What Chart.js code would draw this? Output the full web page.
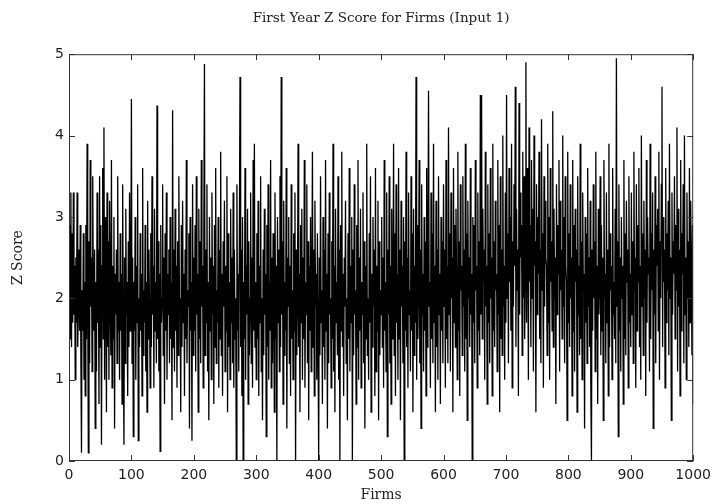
<!DOCTYPE html>
<html lang="en">
<head>
<meta charset="UTF-8">
<title>First Year Z Score for Firms (Input 1)</title>
<script src="https://cdn.jsdelivr.net/npm/chart.js"></script>
<style>
  html, body { margin: 0; padding: 0; background: #fff; }
  #wrap { width: 717px; height: 504px; }
</style>
</head>
<body>
<div id="wrap"><canvas id="zChart" width="717" height="504"></canvas></div>
<script>
const chartTitle = 'First Year Z Score for Firms (Input 1)';
const xTitle = 'Firms';
const yTitle = 'Z Score';
const xTicks = [0, 100, 200, 300, 400, 500, 600, 700, 800, 900, 1000];
const yTicks = [0, 1, 2, 3, 4, 5];

// Z score of each firm, firms 1..1000 (estimated)
const zScores = [
  2.9,1.5,3.3,1.4,2.8,1.7,3.3,1.8,2.4,1.0, 2.5,1.7,3.3,1.4,1.9,2.6,1.6,2.9,1.3,0.1,
  2.1,1.6,2.8,1.0,2.2,0.8,2.9,1.5,3.9,2.0, 0.1,2.7,1.2,3.7,1.9,2.5,1.1,3.5,2.0,1.6,
  2.6,0.4,2.2,1.1,3.3,1.7,2.6,0.7,3.5,1.4, 2.9,0.2,2.4,3.6,1.5,4.1,1.0,3.0,2.1,0.6,
  3.3,1.4,2.7,1.0,3.2,2.0,1.3,3.7,0.9,2.4, 1.5,3.0,0.4,2.3,1.8,2.6,1.2,3.5,1.6,2.2,
  1.0,2.8,1.6,2.3,0.7,3.4,1.5,0.2,2.5,1.2, 3.1,1.8,2.2,0.8,2.7,1.4,3.3,1.6,2.0,4.45,

  1.2,2.5,0.3,2.2,1.6,3.0,1.0,2.4,1.7,3.4, 0.25,2.0,1.4,2.8,1.6,2.3,0.8,3.6,1.3,2.1,
  1.7,2.9,1.1,2.2,0.6,3.2,1.5,2.6,1.9,0.9, 2.8,1.4,3.5,1.8,2.4,0.9,3.1,1.6,2.2,1.2,
  4.37,1.5,2.7,1.1,2.3,0.12,2.9,1.7,2.0,3.4, 1.3,2.5,0.7,2.8,1.6,3.3,1.0,2.3,1.8,2.6,
  1.2,3.0,1.5,2.2,0.5,4.31,1.4,2.6,1.1,3.1, 1.6,2.4,0.9,2.7,1.3,3.5,1.8,2.0,0.6,2.9,
  1.4,3.2,1.7,2.3,0.8,2.6,1.5,3.7,1.2,2.1, 1.9,2.8,0.4,3.0,1.6,2.2,0.25,3.4,1.3,2.5,

  1.6,2.9,1.1,3.5,1.8,2.3,0.6,3.1,1.5,2.7, 1.2,3.7,1.9,2.4,0.9,2.8,4.88,1.3,2.6,1.7,
  3.4,1.1,2.2,0.5,3.0,1.6,2.5,1.0,3.3,1.8, 2.4,0.7,2.9,1.4,3.6,1.2,2.1,1.7,3.0,0.9,
  2.6,1.5,3.8,1.3,2.3,0.8,2.7,1.9,3.2,1.1, 2.4,1.6,3.5,0.6,2.8,1.4,2.2,1.0,3.1,1.7,
  2.5,1.2,3.3,0.9,2.6,1.5,2.0,0.0,3.4,1.6, 2.3,1.1,2.9,4.72,1.4,2.6,0.8,3.0,0.0,2.2,
  1.5,3.6,1.0,2.4,1.8,3.1,0.7,2.7,1.3,2.0, 3.3,1.2,2.5,0.9,3.7,1.6,3.9,1.4,2.2,1.0,

  2.8,1.5,3.2,0.8,2.4,1.7,3.5,1.1,2.0,0.5, 2.6,1.3,3.1,1.8,2.3,0.3,2.9,1.4,3.4,1.0,
  2.2,1.6,3.7,0.9,2.5,1.2,2.8,1.9,0.6,3.3, 1.5,2.4,0.0,3.0,1.7,2.6,1.1,3.5,1.4,4.72,
  1.8,2.7,0.7,3.2,1.3,2.2,1.6,3.6,0.4,2.5, 1.9,3.0,1.2,2.4,0.8,3.4,1.5,2.1,1.0,2.8,
  1.6,3.3,0.0,2.6,1.3,2.0,3.9,1.4,2.3,0.6, 2.9,1.7,3.1,1.0,2.5,1.5,3.7,0.9,2.2,1.8,
  3.4,1.2,2.7,0.5,2.4,1.6,3.0,1.1,2.0,3.8, 1.4,2.6,0.8,3.2,1.9,2.3,1.0,2.8,1.5,0.0,

  2.5,1.3,3.5,1.7,2.1,0.7,3.0,1.4,2.6,1.0, 3.7,1.6,2.3,0.4,2.8,1.2,3.3,1.8,2.0,0.9,
  2.7,1.5,3.9,1.1,2.4,0.6,3.1,1.7,2.2,1.3, 3.5,1.0,2.6,0.0,2.9,1.6,3.8,1.4,2.3,0.8,
  2.5,1.9,3.2,1.2,2.0,0.5,2.8,1.5,3.6,1.1, 2.4,1.7,3.0,0.0,2.6,1.3,3.4,1.8,2.1,0.7,
  2.9,1.4,3.7,1.0,2.5,1.6,3.1,0.9,2.2,1.8, 3.3,1.2,2.7,0.4,2.4,1.5,3.9,1.3,2.0,1.0,
  2.8,1.7,3.5,0.6,2.3,1.4,3.0,1.9,2.6,0.8, 3.6,1.1,2.4,1.6,3.2,0.5,2.7,1.3,2.1,1.8,

  3.0,1.4,2.5,0.9,3.7,1.6,2.2,1.1,3.3,0.3, 2.6,1.8,3.5,1.2,2.4,0.7,3.1,1.5,2.0,3.9,
  1.3,2.8,0.8,3.4,1.7,2.3,1.0,3.6,1.5,2.6, 0.5,3.2,1.9,2.4,1.2,3.0,0.0,2.7,1.6,3.8,
  1.4,2.5,0.9,3.3,1.8,2.1,1.1,3.5,1.6,2.8, 0.6,3.1,1.3,2.4,1.7,4.72,1.0,2.9,1.5,2.2,
  3.7,1.2,2.6,0.4,3.4,1.8,2.3,1.1,3.0,1.6, 2.7,0.8,3.6,1.4,2.5,4.55,1.9,2.2,0.9,3.3,
  1.5,2.8,1.2,3.9,1.7,2.4,0.6,3.2,1.4,2.6, 1.0,3.5,1.8,2.3,0.7,3.0,1.6,2.7,1.2,3.4,

  1.9,2.6,0.9,3.7,1.5,2.4,1.2,4.1,1.8,2.8, 1.1,3.3,2.0,2.5,0.6,3.6,1.7,2.9,1.4,3.1,
  2.2,1.0,3.8,1.6,2.7,0.8,3.4,2.1,2.4,1.3, 3.5,1.9,2.6,1.1,3.9,1.5,2.8,0.5,3.2,2.0,
  2.5,1.4,3.6,1.8,2.3,0.0,3.0,1.7,2.9,1.2, 3.7,2.1,2.4,0.9,3.3,1.6,2.7,1.3,4.5,1.8,
  4.5,1.5,3.1,2.2,2.6,1.0,3.8,1.9,2.4,0.7, 3.4,1.7,2.8,1.2,3.6,2.0,2.5,0.8,3.9,1.6,
  2.7,1.4,3.2,2.1,2.3,1.1,3.7,1.8,2.9,0.6, 3.5,1.5,2.6,1.3,4.0,1.9,2.4,1.0,3.3,1.7,

  4.5,2.0,2.8,1.2,3.6,2.2,3.0,1.6,3.9,0.9, 2.7,1.9,3.4,2.4,4.6,1.4,3.1,2.1,2.6,0.8,
  4.4,1.8,3.3,2.5,2.9,1.3,3.8,2.0,3.5,1.5, 2.3,4.9,1.7,3.6,2.6,1.0,4.1,2.2,2.9,1.4,
  3.7,2.0,3.1,1.1,4.0,2.4,2.7,0.6,3.4,1.8, 3.0,2.3,3.8,1.5,2.6,1.2,4.2,2.1,2.8,0.9,
  3.5,1.9,3.2,2.5,2.4,1.3,3.9,1.7,3.0,1.0, 3.6,2.2,2.7,1.6,4.3,1.4,3.1,2.0,2.5,0.7,
  3.4,1.8,2.9,2.3,3.7,1.1,3.2,2.1,2.6,1.5, 4.0,1.9,3.0,1.2,3.5,2.4,2.2,0.5,3.8,1.7,

  2.8,1.4,3.4,2.0,2.5,0.8,3.7,1.6,2.9,1.1, 3.1,2.2,2.6,0.6,3.5,1.8,2.4,1.3,3.9,1.5,
  2.7,1.0,3.3,2.1,2.3,0.4,3.0,1.7,2.8,1.2, 3.6,1.9,2.5,1.4,3.2,0.9,0.0,2.6,1.6,3.4,
  2.0,2.7,1.1,3.8,1.5,2.4,0.7,3.1,1.8,2.2, 3.5,1.3,2.9,1.6,2.5,0.5,3.7,2.0,2.3,1.2,
  3.3,1.7,2.6,0.8,3.9,1.4,2.8,2.1,2.4,1.0, 3.6,1.8,2.2,1.5,3.1,1.2,4.95,1.9,2.7,0.3,
  3.4,1.6,2.5,1.1,3.0,2.0,2.4,0.7,3.7,1.5, 2.8,1.3,3.2,2.2,2.6,0.9,3.5,1.7,2.3,1.4,

  3.3,1.8,2.7,1.2,3.8,2.1,2.5,0.9,3.4,1.6, 2.9,2.2,3.6,1.4,2.4,1.0,4.0,1.9,2.8,1.3,
  3.2,2.0,2.6,0.8,3.7,1.7,3.0,2.3,2.5,1.1, 3.9,1.5,2.8,2.1,3.3,0.4,2.6,1.8,3.5,1.2,
  2.9,2.4,3.1,1.6,3.8,1.0,2.7,2.0,3.4,4.6, 1.4,3.0,2.2,2.6,0.9,3.6,1.7,2.8,2.1,3.2,
  1.3,3.9,2.0,2.5,0.5,3.3,1.8,2.7,2.3,3.5, 1.5,2.9,2.1,4.1,1.1,3.1,1.9,2.6,0.8,3.7,
  1.6,2.8,2.3,3.4,1.2,4.0,1.8,2.5,1.0,3.3, 2.0,2.7,1.4,3.6,1.7,3.2,2.4,1.3,2.9,0.7
];

const points = zScores.map((v, i) => ({ x: i + 1, y: v }));

const serif = '"DejaVu Serif", "Liberation Serif", serif';
const sans = '"DejaVu Sans", Verdana, sans-serif';

// box around the plot with inward tick marks on all four sides
const frame = {
  id: 'frame',
  afterDatasetsDraw(chart) {
    const { ctx, chartArea: a, scales } = chart;
    ctx.save();
    ctx.strokeStyle = '#333';
    ctx.lineWidth = 1;
    ctx.strokeRect(a.left + 0.5, a.top + 0.5, a.right - a.left - 1, a.bottom - a.top - 1);
    ctx.beginPath();
    xTicks.forEach(t => {
      const px = Math.round(scales.x.getPixelForValue(t)) + 0.5;
      ctx.moveTo(px, a.bottom); ctx.lineTo(px, a.bottom - 6);
      ctx.moveTo(px, a.top); ctx.lineTo(px, a.top + 6);
    });
    yTicks.forEach(t => {
      const py = Math.round(scales.y.getPixelForValue(t)) + 0.5;
      ctx.moveTo(a.left, py); ctx.lineTo(a.left + 6, py);
      ctx.moveTo(a.right, py); ctx.lineTo(a.right - 6, py);
    });
    ctx.stroke();
    ctx.restore();
  }
};

new Chart(document.getElementById('zChart'), {
  type: 'line',
  data: {
    datasets: [{
      label: yTitle,
      data: points,
      borderColor: '#000',
      borderWidth: 1.3,
      pointRadius: 0,
      tension: 0,
      fill: false
    }]
  },
  options: {
    responsive: false,
    animation: false,
    events: [],
    layout: { padding: { left: 0, right: 19, top: 0, bottom: 0 } },
    plugins: {
      legend: { display: false },
      tooltip: { enabled: false },
      title: {
        display: true,
        fullSize: false,
        text: chartTitle,
        color: '#222',
        font: { family: serif, size: 13.5, weight: 'normal' },
        padding: { top: 10, bottom: 28 }
      }
    },
    scales: {
      x: {
        type: 'linear',
        min: 0,
        max: 1000,
        afterBuildTicks: s => { s.ticks = xTicks.map(v => ({ value: v })); },
        afterFit: s => { s.height = 43; },
        grid: { display: false, drawTicks: false },
        border: { display: false },
        ticks: { color: '#222', font: { family: sans, size: 14 }, padding: 6, maxRotation: 0, callback: v => String(v) },
        title: { display: true, text: xTitle, color: '#222', font: { family: serif, size: 14 }, padding: { top: 0, bottom: 0 } }
      },
      y: {
        min: 0,
        max: 5,
        afterBuildTicks: s => { s.ticks = yTicks.map(v => ({ value: v })); },
        afterFit: s => { s.width = 69; },
        grid: { display: false, drawTicks: false },
        border: { display: false },
        ticks: { color: '#222', font: { family: sans, size: 14 }, padding: 5, callback: v => String(v) },
        title: { display: true, text: yTitle, color: '#222', font: { family: serif, size: 14 }, padding: { top: 10, bottom: 0 } }
      }
    }
  },
  plugins: [frame]
});
</script>
</body>
</html>
